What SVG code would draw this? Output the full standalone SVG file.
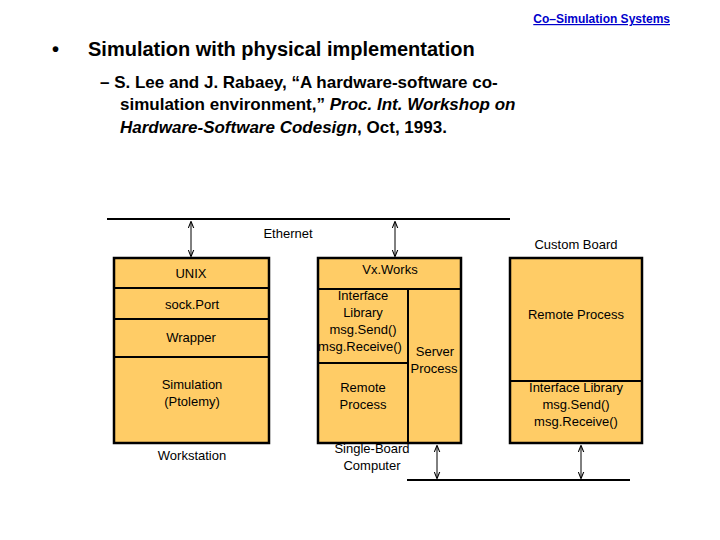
<svg xmlns="http://www.w3.org/2000/svg" width="720" height="540" viewBox="0 0 720 540">
<style>
text{font-family:"Liberation Sans",Arial,sans-serif;fill:#000}
.b{fill:#FFCC66;stroke:#000;stroke-width:2.5}
.l{stroke:#000;stroke-width:2;fill:none}
.a{stroke:#000;stroke-width:1;marker-start:url(#ah);marker-end:url(#ah)}
.t{font-size:13px;text-anchor:middle}
.h{font-size:20px;font-weight:bold}
.s{font-size:17px;font-weight:bold}
</style>
<defs><marker id="ah" viewBox="0 0 10 10" refX="9" refY="5" markerWidth="7" markerHeight="7" orient="auto-start-reverse"><path d="M0,1 L10,5 L0,9" fill="none" stroke="#000" stroke-width="1.5"/></marker></defs>
<rect width="720" height="540" fill="#fff"/>
<text x="670" y="23" font-size="12" font-weight="bold" text-anchor="end" style="fill:#0000CC" text-decoration="underline">Co–Simulation Systems</text>
<text x="52" y="56" class="h">•</text>
<text x="88" y="56" class="h">Simulation with physical implementation</text>
<text x="100" y="88" class="s">– S. Lee and J. Rabaey, “A hardware-software co-</text>
<text x="120" y="110" class="s">simulation environment,” <tspan font-style="italic">Proc. Int. Workshop on</tspan></text>
<text x="120" y="133" class="s"><tspan font-style="italic">Hardware-Software Codesign</tspan>, Oct, 1993.</text>
<g id="connectors">
<line class="l" x1="107" y1="219" x2="510" y2="219"/>
<line class="l" x1="407" y1="480" x2="630" y2="480"/>
<line class="a" x1="191" y1="222" x2="191" y2="256"/>
<line class="a" x1="395" y1="222" x2="395" y2="256"/>
<line class="a" x1="437" y1="446" x2="437" y2="478"/>
<line class="a" x1="581" y1="446" x2="581" y2="478"/>
</g>
<text x="288" y="238" class="t">Ethernet</text>
<g id="workstation">
<rect class="b" x="114" y="258" width="155" height="185"/>
<line class="l" x1="114" y1="288" x2="269" y2="288" stroke-width="2.5"/>
<line class="l" x1="114" y1="319" x2="269" y2="319" stroke-width="2.5"/>
<line class="l" x1="114" y1="357" x2="269" y2="357" stroke-width="2.5"/>
<text x="191" y="278" class="t">UNIX</text>
<text x="192" y="309" class="t">sock.Port</text>
<text x="191" y="342" class="t">Wrapper</text>
<text x="192" y="389" class="t">Simulation</text>
<text x="192" y="406" class="t">(Ptolemy)</text>
<text x="192" y="460" class="t">Workstation</text>
</g>
<g id="sbc">
<rect class="b" x="318" y="258" width="143" height="185"/>
<line class="l" x1="318" y1="289" x2="461" y2="289" stroke-width="2.5"/>
<line class="l" x1="408" y1="289" x2="408" y2="443" stroke-width="2.5"/>
<line class="l" x1="318" y1="363" x2="408" y2="363" stroke-width="2.5"/>
<text x="390" y="274" class="t">Vx.Works</text>
<text x="363" y="300" class="t">Interface</text>
<text x="363" y="317" class="t">Library</text>
<text x="363" y="334" class="t">msg.Send()</text>
<text x="360" y="351" class="t">msg.Receive()</text>
<text x="435" y="356" class="t">Server</text>
<text x="434" y="373" class="t">Process</text>
<text x="363" y="392" class="t">Remote</text>
<text x="363" y="409" class="t">Process</text>
<text x="372" y="453" class="t">Single-Board</text>
<text x="372" y="470" class="t">Computer</text>
</g>
<g id="customboard">
<rect class="b" x="510" y="258" width="132" height="185"/>
<line class="l" x1="510" y1="381" x2="642" y2="381" stroke-width="2.5"/>
<text x="576" y="249" class="t">Custom Board</text>
<text x="576" y="319" class="t">Remote Process</text>
<text x="576" y="392" class="t">Interface Library</text>
<text x="576" y="409" class="t">msg.Send()</text>
<text x="576" y="426" class="t">msg.Receive()</text>
</g>
</svg>
